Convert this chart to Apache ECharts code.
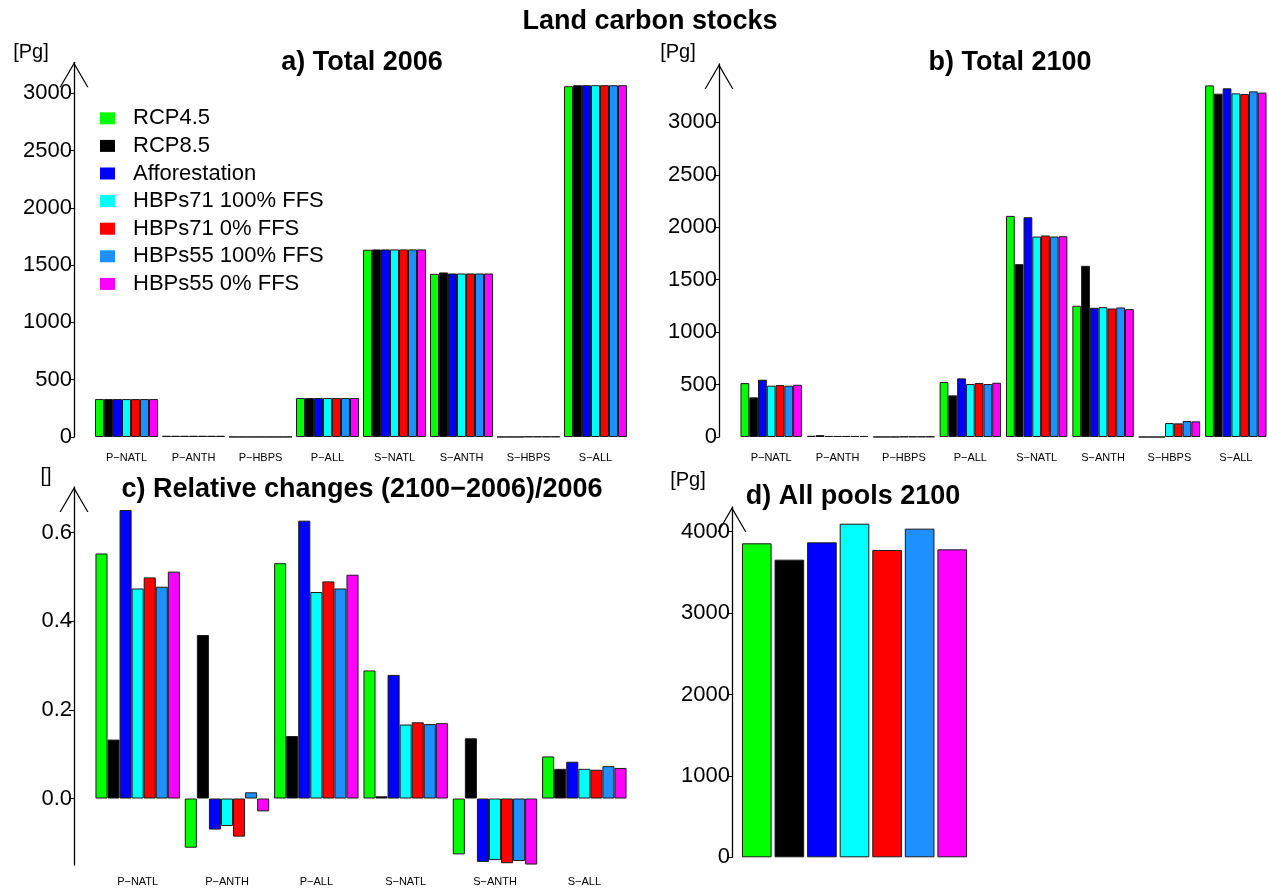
<!DOCTYPE html>
<html>
<head>
<meta charset="utf-8">
<title>Land carbon stocks</title>
<script src="https://cdn.jsdelivr.net/npm/echarts@6/dist/echarts.min.js"></script>
<style>
html, body { margin: 0; padding: 0; background: #fff; }
#chart { width: 1269px; height: 891px; }
</style>
</head>
<body>
<div id="chart"></div>
<script>
// scenarios (legend order) and colours
const scenarios = ['RCP4.5', 'RCP8.5', 'Afforestation', 'HBPs71 100% FFS', 'HBPs71 0% FFS', 'HBPs55 100% FFS', 'HBPs55 0% FFS'];
const colors = ['#00ff00', '#000000', '#0000ff', '#00ffff', '#ff0000', '#1e90ff', '#ff00ff'];

// carbon pools
const pools = ['P−NATL', 'P−ANTH', 'P−HBPS', 'P−ALL', 'S−NATL', 'S−ANTH', 'S−HBPS', 'S−ALL'];
const poolsRel = ['P−NATL', 'P−ANTH', 'P−ALL', 'S−NATL', 'S−ANTH', 'S−ALL'];

// a) Total 2006 [Pg], one row per scenario
const total2006 = [
    [331, 11, 1, 340, 1634, 1424, 1, 3061],
    [331, 11, 1, 340, 1637, 1436, 1, 3070],
    [331, 11, 1, 340, 1637, 1427, 1, 3070],
    [331, 11, 1, 340, 1637, 1427, 4, 3070],
    [331, 11, 1, 340, 1637, 1427, 4, 3070],
    [331, 11, 1, 340, 1637, 1427, 4, 3070],
    [331, 11, 1, 340, 1637, 1427, 4, 3070]
];

// b) Total 2100 [Pg]
const total2100 = [
    [514, 12, 1, 524, 2108, 1251, 0, 3352],
    [378, 18, 1, 397, 1648, 1632, 0, 3273],
    [546, 10, 1, 559, 2095, 1232, 0, 3324],
    [489, 10, 4, 505, 1911, 1238, 133, 3276],
    [495, 10, 4, 514, 1921, 1225, 130, 3270],
    [489, 10, 4, 505, 1911, 1235, 152, 3295],
    [498, 10, 4, 517, 1914, 1219, 149, 3283]
];

// c) Relative changes (2100-2006)/2006
const relChange = [
    [0.553, -0.111, 0.531, 0.289, -0.126, 0.095],
    [0.133, 0.369, 0.141, 0.005, 0.136, 0.067],
    [0.651, -0.070, 0.627, 0.279, -0.143, 0.083],
    [0.474, -0.062, 0.466, 0.167, -0.139, 0.067],
    [0.499, -0.086, 0.490, 0.172, -0.146, 0.065],
    [0.478, 0.014, 0.474, 0.168, -0.141, 0.073],
    [0.512, -0.029, 0.505, 0.170, -0.149, 0.069]
];

// d) All pools 2100 [Pg]
const allPools2100 = [3857, 3656, 3869, 4098, 3775, 4037, 3783];

// tick values
const ticksA = [0, 500, 1000, 1500, 2000, 2500, 3000];
const ticksB = [0, 500, 1000, 1500, 2000, 2500, 3000];
const ticksC = [0, 0.2, 0.4, 0.6];
const ticksD = [0, 1000, 2000, 3000, 4000];

const font = "'Liberation Sans', Arial, sans-serif";
// open arrow head drawn on top of the y axes
const arrowPath = 'path://M14.5,0 L29,25 L27.7,25 L14.5,2.4 L1.3,25 L0,25 Z';

let mychart = echarts.init(document.getElementById('chart'));

function valueAxis(grid, min, max, ticks, offset, fmt) {
    return {
        type: 'value', gridIndex: grid, min: min, max: max, offset: offset,
        splitLine: { show: false },
        axisLine: {
            show: true,
            lineStyle: { color: '#000', width: 1.3 },
            symbol: ['none', arrowPath],
            symbolSize: [29, 25],
            symbolOffset: [0, -12.5]
        },
        axisTick: { show: true, length: 5, lineStyle: { color: '#000' }, customValues: ticks },
        axisLabel: {
            fontSize: 22, color: '#000', margin: 2, fontFamily: font, customValues: ticks,
            formatter: fmt || function (v) { return String(v); }
        }
    };
}

function catAxis(grid, cats, margin, show) {
    return {
        type: 'category', gridIndex: grid, data: cats, position: 'bottom',
        axisLine: { show: false, onZero: false },
        axisTick: { show: false },
        axisLabel: { show: show, fontSize: 11, color: '#000', margin: margin, fontFamily: font, interval: 0 }
    };
}

function groupSeries(rows, idx, gap) {
    return rows.map(function (row, k) {
        return {
            name: scenarios[k], type: 'bar', xAxisIndex: idx, yAxisIndex: idx,
            data: row, barGap: '0%', barCategoryGap: gap,
            itemStyle: { color: colors[k], borderColor: '#1a1a1a', borderWidth: 1 }
        };
    });
}

function title(text, x, y, size, bold) {
    return {
        text: text, left: x, top: y, padding: 0,
        textAlign: 'center', textVerticalAlign: 'middle',
        textStyle: { fontSize: size, fontWeight: bold ? 'bold' : 'normal', color: '#000', fontFamily: font }
    };
}

let option = {
    animation: false,
    title: [
        title('Land carbon stocks', 650, 22, 27, true),
        title('a) Total 2006', 362, 63, 27, true),
        title('b) Total 2100', 1010, 63, 27, true),
        title('c) Relative changes (2100−2006)/2006', 362, 490, 27, true),
        title('d) All pools 2100', 853, 497, 27, true),
        title('[Pg]', 31, 52, 20, false),
        title('[Pg]', 678, 52, 20, false),
        title('[]', 46, 476, 20, false),
        title('[Pg]', 688, 480, 20, false)
    ],
    legend: {
        data: scenarios,
        orient: 'vertical', left: 95, top: 102.3,
        itemWidth: 15, itemHeight: 12, itemGap: 5.6,
        icon: 'rect', selectedMode: false,
        itemStyle: { borderWidth: 0 },
        textStyle: { fontSize: 22, color: '#000', fontFamily: font, padding: [0, 0, 0, 13] }
    },
    grid: [
        { left: 93, top: 62.3, width: 536, height: 374.7 },
        { left: 738, top: 64, width: 546, height: 373 },
        { left: 93, top: 487, width: 536, height: 378 },
        { left: 740.5, top: 507, width: 228, height: 350.3 }
    ],
    xAxis: [
        catAxis(0, pools, 15.5, true),
        catAxis(1, pools, 15.5, true),
        catAxis(2, poolsRel, 11.5, true),
        catAxis(3, scenarios, 10, false)
    ],
    yAxis: [
        valueAxis(0, 0, 3270, ticksA, 19),
        valueAxis(1, 0, 3556, ticksB, 19),
        valueAxis(2, -0.15, 0.703, ticksC, 19, function (v) { return v.toFixed(1); }),
        valueAxis(3, 0, 4303, ticksD, 8.5)
    ],
    series: [].concat(
        groupSeries(total2006, 0, '6%'),
        groupSeries(total2100, 1, '7.5%'),
        groupSeries(relChange, 2, '5.5%'),
        [{
            name: 'All pools 2100', type: 'bar', xAxisIndex: 3, yAxisIndex: 3,
            barCategoryGap: '9%',
            data: allPools2100.map(function (v, k) {
                return { value: v, itemStyle: { color: colors[k] } };
            }),
            itemStyle: { borderColor: '#1a1a1a', borderWidth: 1 }
        }]
    )
};

mychart.setOption(option);
</script>
</body>
</html>
